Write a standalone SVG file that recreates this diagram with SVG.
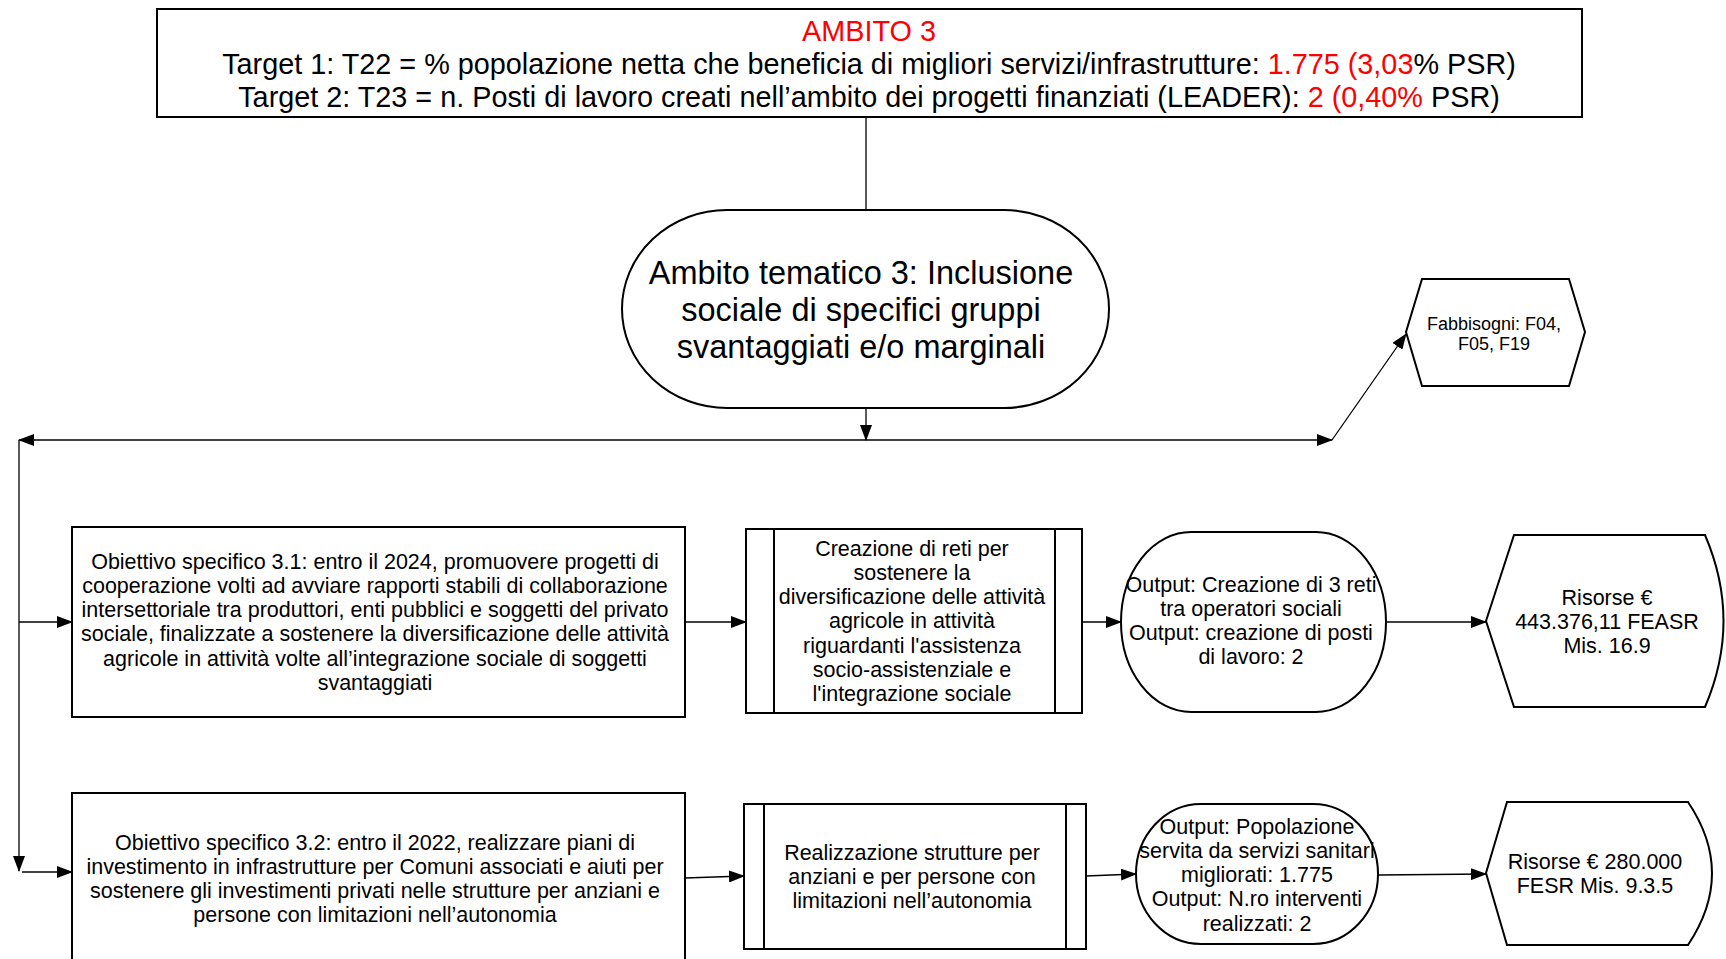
<svg xmlns="http://www.w3.org/2000/svg" width="1726" height="959" viewBox="0 0 1726 959">
<defs>
<style>
.s{fill:#fff;stroke:#000;stroke-width:2}
.t{font-family:"Liberation Sans",Arial,sans-serif;font-size:21.5px;fill:#000;text-anchor:middle}
.top{font-family:"Liberation Sans",Arial,sans-serif;font-size:28.8px;fill:#000;text-anchor:middle}
.red{fill:#ff0000}
.c{fill:none;stroke:#000;stroke-width:1.3}
</style>
<marker id="ah" markerWidth="16" markerHeight="12" refX="15" refY="6" orient="auto" markerUnits="userSpaceOnUse">
<path d="M0,0 L16,6 L0,12 Z" fill="#000"/>
</marker>
</defs>
<rect width="1726" height="959" fill="#fff"/>

<g id="connectors">
<line class="c" x1="866" y1="117" x2="866" y2="210"/>
<line class="c" x1="866" y1="408" x2="866" y2="440" marker-end="url(#ah)"/>
<line class="c" x1="866" y1="440" x2="19" y2="440" marker-end="url(#ah)"/>
<line class="c" x1="866" y1="440" x2="1332" y2="440" marker-end="url(#ah)"/>
<line class="c" x1="1332" y1="440" x2="1406" y2="334" marker-end="url(#ah)"/>
<line class="c" x1="19" y1="440" x2="19" y2="871" marker-end="url(#ah)"/>
<line class="c" x1="19" y1="622" x2="72" y2="622" marker-end="url(#ah)"/>
<line class="c" x1="22" y1="872" x2="72" y2="872" marker-end="url(#ah)"/>
<line class="c" x1="685" y1="622" x2="746" y2="622" marker-end="url(#ah)"/>
<line class="c" x1="1082" y1="622" x2="1121" y2="622" marker-end="url(#ah)"/>
<line class="c" x1="1386" y1="622" x2="1486" y2="622" marker-end="url(#ah)"/>
<line class="c" x1="685" y1="878" x2="744" y2="876" marker-end="url(#ah)"/>
<line class="c" x1="1086" y1="876" x2="1136" y2="874" marker-end="url(#ah)"/>
<line class="c" x1="1378" y1="875" x2="1486" y2="874" marker-end="url(#ah)"/>
</g>

<g id="ambito3">
<rect class="s" x="157" y="9" width="1425" height="108"/>
<text class="top red" x="869" y="41">AMBITO 3</text>
<text class="top" x="869" y="74">Target 1: T22 = % popolazione netta che beneficia di migliori servizi/infrastrutture: <tspan class="red">1.775 (3,03</tspan>% PSR)</text>
<text class="top" x="869" y="107">Target 2: T23 = n. Posti di lavoro creati nell’ambito dei progetti finanziati (LEADER): <tspan class="red">2 (0,40%</tspan> PSR)</text>
</g>

<g id="ambito-tematico">
<rect class="s" x="622" y="210" width="487" height="198" rx="105" ry="99"/>
<text class="t" style="font-size:32.5px" x="861" y="284">Ambito tematico 3: Inclusione</text>
<text class="t" style="font-size:32.5px" x="861" y="321">sociale di specifici gruppi</text>
<text class="t" style="font-size:32.5px" x="861" y="358">svantaggiati e/o marginali</text>
</g>

<g id="fabbisogni">
<polygon class="s" points="1406,332 1422,279 1569,279 1585,332 1569,386 1422,386"/>
<text class="t" style="font-size:18px" x="1494" y="330">Fabbisogni: F04,</text>
<text class="t" style="font-size:18px" x="1494" y="350">F05, F19</text>
</g>

<g id="obiettivo-3-1">
<rect class="s" x="72" y="527" width="613" height="190"/>
<text class="t" x="375" y="568.5">Obiettivo specifico 3.1: entro il 2024, promuovere progetti di</text>
<text class="t" x="375" y="592.8">cooperazione volti ad avviare rapporti stabili di collaborazione</text>
<text class="t" x="375" y="617.1">intersettoriale tra produttori, enti pubblici e soggetti del privato</text>
<text class="t" x="375" y="641.4">sociale, finalizzate a sostenere la diversificazione delle attività</text>
<text class="t" x="375" y="665.7">agricole in attività volte all’integrazione sociale di soggetti</text>
<text class="t" x="375" y="690">svantaggiati</text>
</g>

<g id="intervento-1">
<rect class="s" x="746" y="529" width="336" height="184"/>
<line class="s" x1="774" y1="529" x2="774" y2="713"/>
<line class="s" x1="1055" y1="529" x2="1055" y2="713"/>
<text class="t" x="912" y="555.5">Creazione di reti per</text>
<text class="t" x="912" y="579.8">sostenere la</text>
<text class="t" x="912" y="604.1">diversificazione delle attività</text>
<text class="t" x="912" y="628.4">agricole in attività</text>
<text class="t" x="912" y="652.7">riguardanti l'assistenza</text>
<text class="t" x="912" y="677">socio-assistenziale e</text>
<text class="t" x="912" y="701.3">l'integrazione sociale</text>
</g>

<g id="output-1">
<rect class="s" x="1121" y="532" width="265" height="180" rx="70" ry="90"/>
<text class="t" x="1251" y="591.5">Output: Creazione di 3 reti</text>
<text class="t" x="1251" y="615.8">tra operatori sociali</text>
<text class="t" x="1251" y="640.1">Output: creazione di posti</text>
<text class="t" x="1251" y="664.4">di lavoro: 2</text>
</g>

<g id="risorse-1">
<path class="s" d="M1486,621 L1514,535 L1705,535 Q1742,621 1705,707 L1514,707 Z"/>
<text class="t" x="1607" y="604.5">Risorse €</text>
<text class="t" x="1607" y="628.8">443.376,11 FEASR</text>
<text class="t" x="1607" y="653.1">Mis. 16.9</text>
</g>

<g id="obiettivo-3-2">
<rect class="s" x="72" y="793" width="613" height="180"/>
<text class="t" x="375" y="849.5">Obiettivo specifico 3.2: entro il 2022, realizzare piani di</text>
<text class="t" x="375" y="873.8">investimento in infrastrutture per Comuni associati e aiuti per</text>
<text class="t" x="375" y="898.1">sostenere gli investimenti privati nelle strutture per anziani e</text>
<text class="t" x="375" y="922.4">persone con limitazioni nell’autonomia</text>
</g>

<g id="intervento-2">
<rect class="s" x="744" y="804" width="342" height="145"/>
<line class="s" x1="764" y1="804" x2="764" y2="949"/>
<line class="s" x1="1066" y1="804" x2="1066" y2="949"/>
<text class="t" x="912" y="859.5">Realizzazione strutture per</text>
<text class="t" x="912" y="883.8">anziani e per persone con</text>
<text class="t" x="912" y="908.1">limitazioni nell’autonomia</text>
</g>

<g id="output-2">
<rect class="s" x="1136" y="804" width="242" height="140" rx="65" ry="70"/>
<text class="t" x="1257" y="833.5">Output: Popolazione</text>
<text class="t" x="1257" y="857.8">servita da servizi sanitari</text>
<text class="t" x="1257" y="882.1">migliorati: 1.775</text>
<text class="t" x="1257" y="906.4">Output: N.ro interventi</text>
<text class="t" x="1257" y="930.7">realizzati: 2</text>
</g>

<g id="risorse-2">
<path class="s" d="M1486,873 L1507,802 L1688,802 Q1736,873 1688,945 L1507,945 Z"/>
<text class="t" x="1595" y="868.5">Risorse € 280.000</text>
<text class="t" x="1595" y="892.8">FESR Mis. 9.3.5</text>
</g>
</svg>
